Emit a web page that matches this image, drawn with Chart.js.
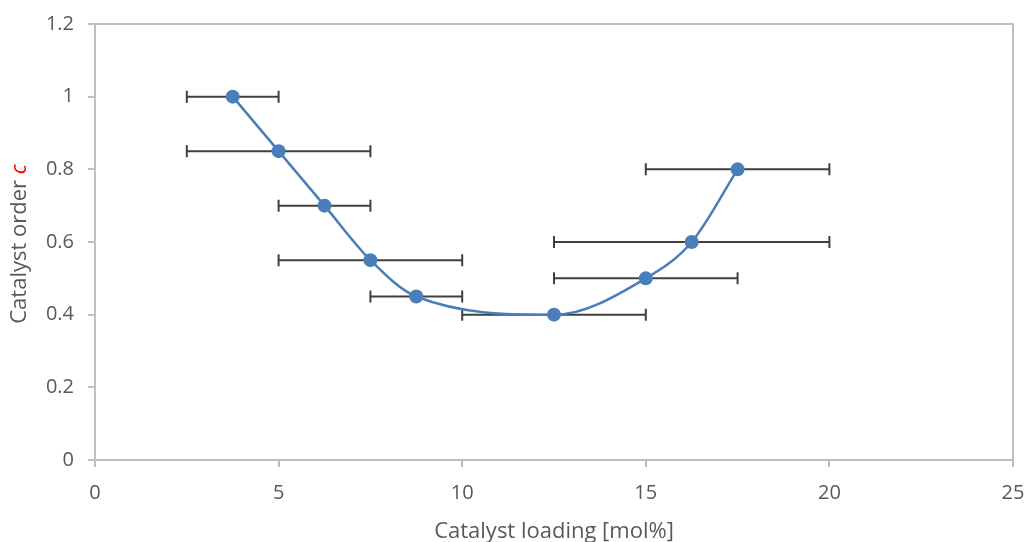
<!DOCTYPE html>
<html>
<head>
<meta charset="utf-8">
<script src="https://cdn.jsdelivr.net/npm/chart.js@4/dist/chart.umd.min.js"></script>
<style>
  html, body { margin: 0; padding: 0; background: #fff; }
  #wrap { width: 1027px; height: 542px; }
</style>
</head>
<body>
<div id="wrap"><canvas id="chart" width="1027" height="542"></canvas></div>
<script>
// catalyst loading (x), catalyst order c (y), and horizontal error bar ranges
const loading = [3.75, 5, 6.25, 7.5, 8.75, 12.5, 15, 16.25, 17.5];
const order = [1, 0.85, 0.7, 0.55, 0.45, 0.4, 0.5, 0.6, 0.8];
const errLow = [2.5, 2.5, 5, 5, 7.5, 10, 12.5, 12.5, 15];
const errHigh = [5, 7.5, 7.5, 10, 10, 15, 17.5, 20, 20];
const xTicks = [0, 5, 10, 15, 20, 25];
const yTicks = ['0', '0.2', '0.4', '0.6', '0.8', '1', '1.2'];

const FONT = '"Open Sans", "Noto Sans", sans-serif';
const TEXT = '#595959';
const AXIS = '#bfbfbf';
const TITLE_SIZE = 22;

const errorBars = {
    id: 'errorBars',
    beforeDatasetsDraw(chart) {
        const { ctx, scales: { x, y } } = chart;
        ctx.save();
        ctx.strokeStyle = '#404040';
        ctx.lineWidth = 2;
        for (let i = 0; i < order.length; i++) {
            const py = y.getPixelForValue(order[i]);
            const x1 = x.getPixelForValue(errLow[i]);
            const x2 = x.getPixelForValue(errHigh[i]);
            ctx.beginPath();
            ctx.moveTo(x1, py); ctx.lineTo(x2, py);
            ctx.moveTo(x1, py - 6); ctx.lineTo(x1, py + 6);
            ctx.moveTo(x2, py - 6); ctx.lineTo(x2, py + 6);
            ctx.stroke();
        }
        ctx.restore();
    }
};

const frameAndTitles = {
    id: 'frameAndTitles',
    afterDraw(chart) {
        const { ctx, chartArea: a } = chart;
        ctx.save();
        // top and right frame lines
        ctx.strokeStyle = AXIS;
        ctx.lineWidth = 2;
        ctx.beginPath();
        ctx.moveTo(a.left - 7, a.top); ctx.lineTo(a.right, a.top); ctx.lineTo(a.right, a.bottom);
        ctx.stroke();

        // x title
        ctx.fillStyle = TEXT;
        ctx.font = TITLE_SIZE + 'px ' + FONT;
        ctx.textAlign = 'center';
        ctx.textBaseline = 'middle';
        ctx.fillText('Catalyst loading [mol%]', (a.left + a.right) / 2, 532);

        // y title with red italic "c"
        ctx.translate(20, 244);
        ctx.rotate(-Math.PI / 2);
        const main = 'Catalyst order ';
        ctx.font = TITLE_SIZE + 'px ' + FONT;
        const w1 = ctx.measureText(main).width;
        ctx.font = 'italic ' + TITLE_SIZE + 'px ' + FONT;
        const w2 = ctx.measureText('c').width;
        const start = -(w1 + w2) / 2;
        ctx.textAlign = 'left';
        ctx.font = TITLE_SIZE + 'px ' + FONT;
        ctx.fillStyle = TEXT;
        ctx.fillText(main, start, 0);
        ctx.font = 'italic ' + TITLE_SIZE + 'px ' + FONT;
        ctx.fillStyle = '#ff0000';
        ctx.fillText('c', start + w1, 0);
        ctx.restore();
    }
};

new Chart(document.getElementById('chart'), {
    type: 'scatter',
    data: {
        datasets: [{
            data: loading.map((v, i) => ({ x: v, y: order[i] })),
            showLine: true,
            cubicInterpolationMode: 'monotone',
            borderColor: '#4a7ebb',
            borderWidth: 2.5,
            backgroundColor: '#4a7ebb',
            pointRadius: 7,
            pointBorderWidth: 0,
            pointHoverRadius: 7
        }]
    },
    options: {
        responsive: false,
        animation: false,
        layout: { padding: { top: 24, right: 14, left: 0, bottom: 0 } },
        plugins: { legend: { display: false }, tooltip: { enabled: false } },
        scales: {
            x: {
                type: 'linear',
                min: 0, max: 25,
                afterBuildTicks: s => { s.ticks = xTicks.map(v => ({ value: v })); },
                afterFit: s => { s.height = 82; s.paddingLeft = 0; s.paddingRight = 0; },
                ticks: { color: TEXT, font: { family: FONT, size: 20 }, padding: 14, maxRotation: 0 },
                grid: { drawOnChartArea: false, tickLength: 7, color: AXIS, lineWidth: 2 },
                border: { color: AXIS, width: 2 }
            },
            y: {
                min: 0, max: 1.2,
                ticks: {
                    stepSize: 0.2,
                    color: TEXT,
                    font: { family: FONT, size: 20 },
                    padding: 14,
                    callback: (v, i) => yTicks[i]
                },
                afterFit: s => { s.width = 95; s.paddingTop = 0; s.paddingBottom = 0; },
                grid: { drawOnChartArea: false, tickLength: 7, color: AXIS, lineWidth: 2 },
                border: { color: AXIS, width: 2 }
            }
        }
    },
    plugins: [errorBars, frameAndTitles]
});
</script>
</body>
</html>
